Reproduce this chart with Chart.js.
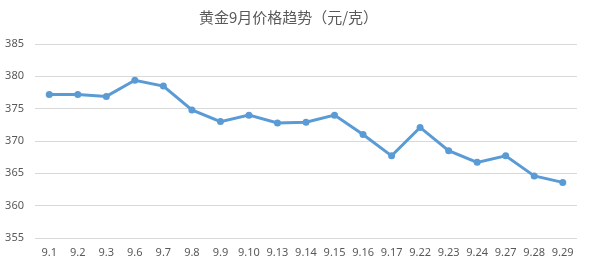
<!DOCTYPE html>
<html>
<head>
<meta charset="utf-8">
<script src="https://cdn.jsdelivr.net/npm/chart.js@4/dist/chart.umd.min.js"></script>
<style>
html,body{margin:0;padding:0;background:#fff;}
#wrap{width:590px;height:268px;position:relative;}
</style>
</head>
<body>
<div id="wrap"><canvas id="c" width="590" height="268"></canvas></div>
<script>
const titleText = '黄金9月价格趋势（元/克）';
const categories = ['9.1','9.2','9.3','9.6','9.7','9.8','9.9','9.10','9.13','9.14','9.15','9.16','9.17','9.22','9.23','9.24','9.27','9.28','9.29'];
const prices = [377.2,377.2,376.9,379.4,378.5,374.8,373.0,374.0,372.8,372.9,374.0,371.0,367.7,372.1,368.5,366.7,367.7,364.6,363.6];
const yMin = 355, yMax = 385, yStep = 5;

new Chart(document.getElementById('c'), {
  type: 'line',
  data: {
    labels: categories,
    datasets: [{
      data: prices,
      borderColor: '#5B9BD5',
      backgroundColor: '#5B9BD5',
      borderWidth: 3,
      pointRadius: 3.5,
      pointBorderWidth: 0,
      pointBackgroundColor: '#5B9BD5',
      tension: 0,
      fill: false
    }]
  },
  options: {
    responsive: false,
    animation: false,
    devicePixelRatio: 1,
    layout: { padding: { top: 0, right: 13, bottom: 0, left: 0 } },
    plugins: {
      legend: { display: false },
      tooltip: { enabled: false },
      title: {
        display: true,
        text: titleText,
        color: '#595959',
        font: { family: '"Noto Sans CJK SC", "Noto Sans", sans-serif', size: 15, weight: 'normal', lineHeight: 1.2 },
        padding: { top: 8, bottom: 18 }
      }
    },
    scales: {
      x: {
        offset: true,
        grid: { display: false, drawTicks: false },
        border: { display: false },
        ticks: {
          color: '#595959',
          font: { family: '"Noto Sans", "Liberation Sans", sans-serif', size: 11 },
          padding: 8,
          maxRotation: 0,
          autoSkip: false
        },
        afterFit(s) { s.height = 30; }
      },
      y: {
        min: yMin, max: yMax,
        grid: { color: '#D9D9D9', lineWidth: 1, drawTicks: false },
        border: { display: false },
        ticks: {
          stepSize: yStep,
          color: '#595959',
          font: { family: '"Noto Sans", "Liberation Sans", sans-serif', size: 11 },
          padding: 11
        },
        afterFit(s) { s.width = 35; }
      }
    }
  }
});
</script>
</body>
</html>
